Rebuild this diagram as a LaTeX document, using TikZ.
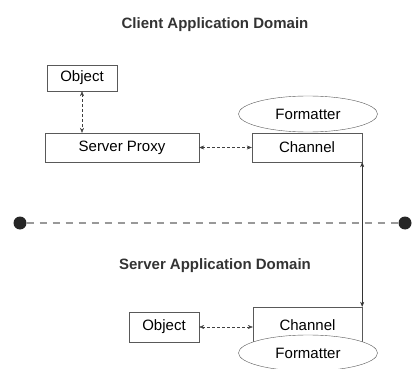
\documentclass[tikz,border=0pt]{standalone}
\usepackage{fontspec}
\setmainfont{Liberation Sans}
\usetikzlibrary{positioning,arrows.meta,shapes.geometric}

\begin{document}
\begin{tikzpicture}[x=1pt,y=-1pt,>={Stealth[length=5pt,width=4pt]},
  font=\fontsize{15}{17}\selectfont,
  box/.style={draw=black!65,rectangle,inner sep=0pt},
  fmt/.style={draw=black!65,ellipse,fill=white,inner sep=0pt,minimum width=139pt,minimum height=36pt},
  link/.style={<->,densely dashed,black!75},
  domaintitle/.style={font=\fontsize{15}{17}\selectfont\bfseries,text=black!80}]
\useasboundingbox (0,0) rectangle (413,369);
% client side
\node[domaintitle] (client) at (215,25) {Client Application Domain};
\node[box,minimum width=70pt,minimum height=26pt] (cobj) at (82,78) {Object};
\node[box,minimum width=154pt,minimum height=29pt] (proxy) at (122,147.5) {Server Proxy};
\node[box,minimum width=110pt,minimum height=29pt] (cchan) at (307,147.5) {Channel};
\node[fmt] (cfmt) at (308,114) {Formatter};
\draw[link] (cobj.south) -- (cobj.south |- proxy.north);
\draw[link] (proxy.east) -- (cchan.west);
% boundary
\node[circle,fill=black!85,minimum size=13pt,inner sep=0pt] (dotl) at (20,223) {};
\node[circle,fill=black!85,minimum size=13pt,inner sep=0pt] (dotr) at (405,223) {};
\draw[black!40,dashed,dash pattern=on 7pt off 6pt,line width=1.2pt] (dotl) -- (dotr);
% server side
\node[domaintitle] (server) at (215,266) {Server Application Domain};
\node[box,minimum width=70pt,minimum height=30pt] (sobj) at (164,327) {Object};
\node[box,minimum width=109pt,minimum height=35pt] (schan) at (307.5,324.5) {};
\node at (307.5,325) {Channel};
\node[fmt] (sfmt) at (308,353) {Formatter};
\draw[link] (sobj.east) -- (sobj.east -| schan.west);
\draw[<->,black!80] (cchan.south east) -- (schan.north east);
\end{tikzpicture}
\end{document}
